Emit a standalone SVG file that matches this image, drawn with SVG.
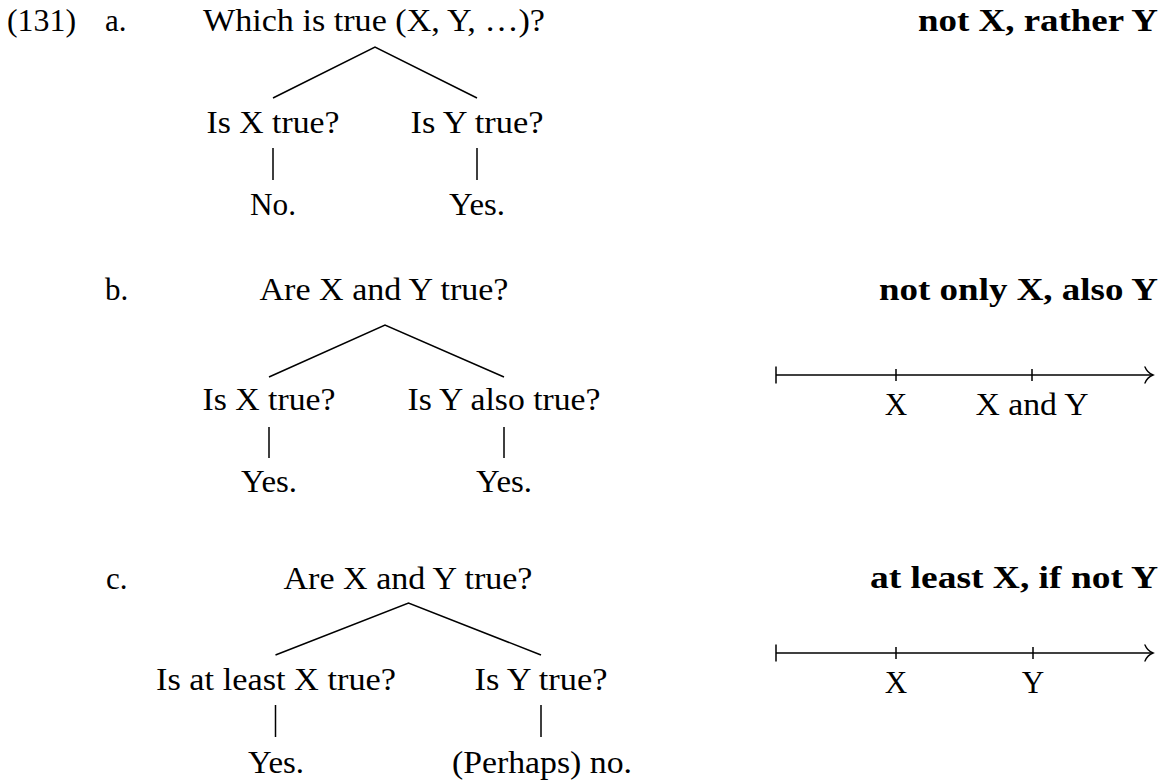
<svg xmlns="http://www.w3.org/2000/svg" width="1171" height="780" viewBox="0 0 1171 780">
<style>
text{font-family:"Liberation Serif","Times New Roman",serif;font-size:31px;fill:#000}
.m{text-anchor:middle}
.e{text-anchor:end;font-weight:bold}
.ln{stroke:#000;stroke-width:1.5;fill:none;stroke-linecap:butt}
</style>
<defs>
<marker id="to" viewBox="-10 -10 12 20" refX="0" refY="0" markerWidth="12" markerHeight="20" markerUnits="userSpaceOnUse" orient="auto">
<path d="M-8,-8 C-6,-3 -2,-0.8 0,0 C-2,0.8 -6,3 -8,8" fill="none" stroke="#000" stroke-width="1.4" stroke-linecap="round"/>
</marker>
</defs>
<rect width="1171" height="780" fill="#fff"/>

<g id="labels">
<text x="7" y="31" textLength="69" lengthAdjust="spacingAndGlyphs">(131)</text>
<text x="105" y="31">a.</text>
<text x="105" y="300">b.</text>
<text x="106" y="589">c.</text>
</g>

<g id="titles">
<text class="e" x="1158" y="31" textLength="240" lengthAdjust="spacingAndGlyphs">not X, rather Y</text>
<text class="e" x="1158" y="300" textLength="279" lengthAdjust="spacingAndGlyphs">not only X, also Y</text>
<text class="e" x="1158" y="588" textLength="288" lengthAdjust="spacingAndGlyphs">at least X, if not Y</text>
</g>

<g id="connectors">
<path class="ln" d="M273,98 L375,47 L477,98"/>
<path class="ln" d="M273,148 V180 M477,148 V180"/>
<path class="ln" d="M269,377 L385,325 L504,377"/>
<path class="ln" d="M269,427 V458 M504,427 V458"/>
<path class="ln" d="M275.5,655 L408.5,603 L541,655"/>
<path class="ln" d="M275.5,705 V737 M541,705 V737"/>
</g>

<g id="tree-a">
<g id="a-root"><text class="m" x="374" y="31" textLength="342" lengthAdjust="spacingAndGlyphs">Which is true (X, Y, …)?</text></g>
<g id="a-x"><text class="m" x="273" y="133" textLength="133" lengthAdjust="spacingAndGlyphs">Is X true?</text></g>
<g id="a-y"><text class="m" x="477" y="133" textLength="133" lengthAdjust="spacingAndGlyphs">Is Y true?</text></g>
<g id="a-no"><text class="m" x="273" y="215" textLength="46" lengthAdjust="spacingAndGlyphs">No.</text></g>
<g id="a-yes"><text class="m" x="477" y="215" textLength="56" lengthAdjust="spacingAndGlyphs">Yes.</text></g>
</g>

<g id="tree-b">
<g id="b-root"><text class="m" x="384" y="300" textLength="249" lengthAdjust="spacingAndGlyphs">Are X and Y true?</text></g>
<g id="b-x"><text class="m" x="269" y="410" textLength="133" lengthAdjust="spacingAndGlyphs">Is X true?</text></g>
<g id="b-y"><text class="m" x="504" y="410" textLength="193" lengthAdjust="spacingAndGlyphs">Is Y also true?</text></g>
<g id="b-yes1"><text class="m" x="269" y="492" textLength="56" lengthAdjust="spacingAndGlyphs">Yes.</text></g>
<g id="b-yes2"><text class="m" x="504" y="492" textLength="56" lengthAdjust="spacingAndGlyphs">Yes.</text></g>
</g>

<g id="tree-c">
<g id="c-root"><text class="m" x="408" y="589" textLength="249" lengthAdjust="spacingAndGlyphs">Are X and Y true?</text></g>
<g id="c-x"><text class="m" x="276" y="690" textLength="240" lengthAdjust="spacingAndGlyphs">Is at least X true?</text></g>
<g id="c-y"><text class="m" x="541" y="690" textLength="133" lengthAdjust="spacingAndGlyphs">Is Y true?</text></g>
<g id="c-yes"><text class="m" x="276" y="773" textLength="56" lengthAdjust="spacingAndGlyphs">Yes.</text></g>
<g id="c-no"><text class="m" x="542" y="773" textLength="180" lengthAdjust="spacingAndGlyphs">(Perhaps) no.</text></g>
</g>

<g id="scale-b">
<path class="ln" d="M776,375 H1153" marker-end="url(#to)"/>
<path class="ln" d="M776,366.5 V383.5 M896,369 V381 M1032,369 V381"/>
<text class="m" x="896" y="415" textLength="22.5" lengthAdjust="spacingAndGlyphs">X</text>
<text class="m" x="1032" y="415" textLength="113" lengthAdjust="spacingAndGlyphs">X and Y</text>
</g>

<g id="scale-c">
<path class="ln" d="M776,653 H1153" marker-end="url(#to)"/>
<path class="ln" d="M776,644.5 V661.5 M896,647 V659 M1033,647 V659"/>
<text class="m" x="896" y="693" textLength="22.5" lengthAdjust="spacingAndGlyphs">X</text>
<text class="m" x="1033" y="693" textLength="22.5" lengthAdjust="spacingAndGlyphs">Y</text>
</g>
</svg>
